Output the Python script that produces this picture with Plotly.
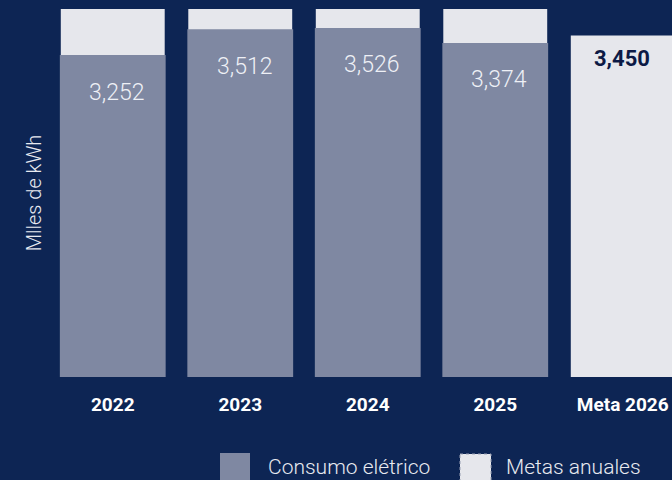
import plotly.graph_objects as go

# ---- data ----
categories = ["2022", "2023", "2024", "2025", "Meta 2026"]
consumo = [3252, 3512, 3526, 3374]               # Consumo elétrico (miles de kWh), 2022-2025
metas = [3800, 3800, 3800, 3800, 3450]           # Metas anuales (2022-2025 exceed visible range)
consumo_labels = ["3,252", "3,512", "3,526", "3,374"]
meta_label = "3,450"

# ---- style ----
BG = "#0d2554"
C_CONSUMO = "#7f88a2"
C_META = "#e6e7ec"
W, H = 672, 480
ML, MR, MT, MB = 49, 0, 9, 103
Y_MAX = 3717

fig = go.Figure()
fig.add_trace(go.Bar(
    x=categories, y=metas, name="Metas anuales",
    marker=dict(color=C_META, line=dict(width=0)),
    width=0.815, showlegend=False, hoverinfo="skip",
))
fig.add_trace(go.Bar(
    x=categories[:len(consumo)], y=consumo, name="Consumo elétrico",
    marker=dict(color=C_CONSUMO, line=dict(width=0)),
    width=0.83, showlegend=False, hoverinfo="skip",
))

annotations = []
for i, (val, lab) in enumerate(zip(consumo, consumo_labels)):
    annotations.append(dict(
        x=i, y=val, xref="x", yref="y", text=lab, showarrow=False,
        yshift=-37, xshift=4, yanchor="middle",
        font=dict(family="Roboto", size=23, color="#eef0f6", weight=300),
    ))
annotations.append(dict(
    x=len(categories) - 1, y=metas[-1], xref="x", yref="y", text=meta_label, showarrow=False,
    yshift=-23, xshift=-1, yanchor="middle",
    font=dict(family="Roboto", size=22, color="#0c1a45", weight=700),
))

# custom legend (pixel positions converted to paper coords)
pw, ph = W - ML - MR, H - MT - MB
def px(x):
    return (x - ML) / pw
def py(y):
    return (H - MB - y) / ph

shapes = [
    dict(type="rect", xref="paper", yref="paper", x0=px(220), x1=px(250), y0=py(453), y1=py(482),
         fillcolor=C_CONSUMO, line=dict(width=0), layer="above"),
    dict(type="rect", xref="paper", yref="paper", x0=px(460), x1=px(491), y0=py(454), y1=py(482),
         fillcolor=C_META, line=dict(width=1, color="#9aa1b4", dash="dot"), layer="above"),
]
legend_items = [("Consumo elétrico", 266), ("Metas anuales", 504)]
for txt, x in legend_items:
    annotations.append(dict(
        x=px(x), y=py(467), xref="paper", yref="paper", text=txt, showarrow=False,
        xanchor="left", yanchor="middle",
        font=dict(family="Roboto", size=21, color="#e8eaf0", weight=300),
    ))

fig.update_layout(
    width=W, height=H,
    paper_bgcolor=BG, plot_bgcolor=BG,
    margin=dict(l=ML, r=MR, t=MT, b=MB),
    barmode="overlay",
    showlegend=False,
    annotations=annotations,
    shapes=shapes,
    xaxis=dict(
        type="category",
        range=[-0.5, -0.5 + pw / 127.5], showgrid=False, zeroline=False, showline=False,
        ticks="", ticklabelstandoff=14,
        tickfont=dict(family="Roboto", size=19, color="white", weight=700),
        fixedrange=True,
    ),
    yaxis=dict(
        range=[0, Y_MAX], showgrid=False, zeroline=False, showline=False,
        showticklabels=False, ticks="",
        title=dict(text="Mlles de kWh", standoff=1,
                   font=dict(family="Roboto", size=20, color="#e8eaf0", weight=300)),
        fixedrange=True,
    ),
)

fig.write_html("out.html", config={"displayModeBar": False, "staticPlot": True})

# remove default page margin so the figure sits at the window's top-left corner
with open("out.html", "r", encoding="utf-8") as f:
    html = f.read()
html = html.replace("<body>", '<body style="margin:0;padding:0;overflow:hidden;">', 1)
with open("out.html", "w", encoding="utf-8") as f:
    f.write(html)
